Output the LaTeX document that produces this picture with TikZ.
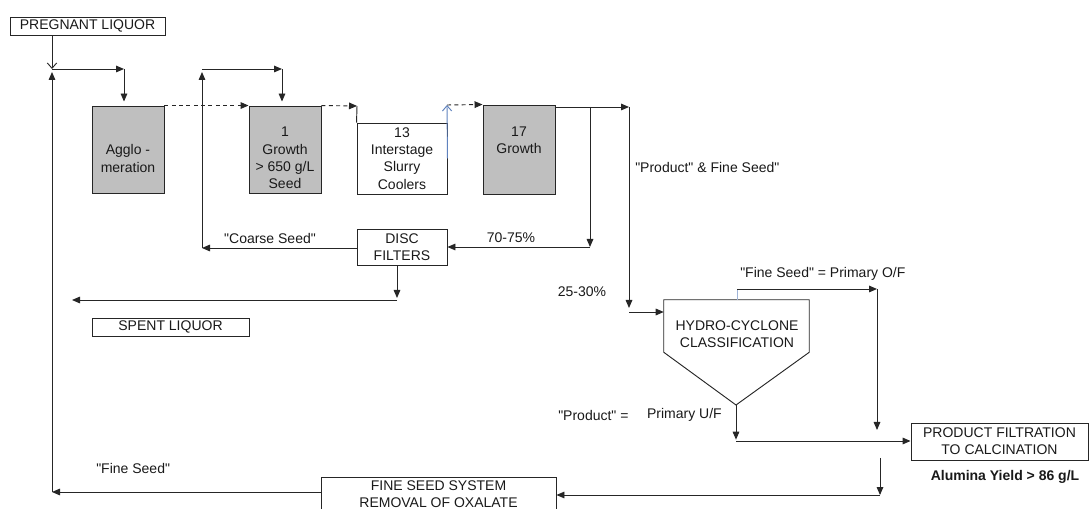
\documentclass[tikz,border=0pt]{standalone}
\usepackage{fontspec}
\setmainfont{Liberation Sans}[Ligatures=TeXOff]
\usepackage{tikz}
\usetikzlibrary{arrows.meta, positioning, calc}
\usepackage{xcolor}
\definecolor{flowblue}{RGB}{95,130,190}
\tikzstyle{box} = [rectangle, draw=black!85, line width=0.7pt, inner sep=0pt, align=center, text=black!90, font=\fontsize{10.5}{13}\selectfont]
\tikzstyle{tank} = [box, fill=black!25]
\tikzstyle{lbl} = [inner sep=0pt, align=center, text=black!90, font=\fontsize{10.5}{13}\selectfont]
\tikzstyle{arrow} = [line width=0.7pt, draw=black!85, -{Triangle[length=6pt,width=5pt]}]
\tikzstyle{dasharrow} = [arrow, dash pattern=on 3pt off 2.5pt]
\tikzstyle{openarrow} = [line width=0.7pt, draw=black!85, -{Straight Barb[length=4pt,width=7pt]}]
\tikzstyle{bluearrow} = [line width=0.7pt, draw=flowblue, -{Straight Barb[length=4pt,width=7pt]}]

\begin{document}
\begin{tikzpicture}[x=0.75pt, y=-0.75pt]
  \useasboundingbox (0,0) rectangle (1089,509);
  \clip (0,0) rectangle (1089,509);

  % Feed and precipitator tanks
  \node[box, minimum width=116.25pt, minimum height=13.5pt] (preg) at (87.5,26) {PREGNANT LIQUOR};
  \node[tank, minimum width=54pt, minimum height=65.25pt] (agglo) at (128,149.5) {};
  \node[lbl] (agglotxt) at (128,158.5) {Agglo -\\meration};
  \node[tank, minimum width=54pt, minimum height=65.25pt] (grow1) at (285,149.5) {};
  \node[lbl] (grow1txt) at (285,158) {1\\Growth\\> 650 g/L\\Seed};
  \node[box, minimum width=67.5pt, minimum height=53.25pt] (cool13) at (402,158.5) {13\\Interstage\\Slurry\\Coolers};
  \node[tank, minimum width=54pt, minimum height=66.75pt] (grow17) at (519,149.5) {};
  \node[lbl] (grow17txt) at (519,140) {17\\Growth};

  % Filters and classification
  \node[box, minimum width=67.5pt, minimum height=27pt] (disc) at (402,247) {DISC\\FILTERS};
  \node[box, minimum width=117.75pt, minimum height=13.5pt] (spent) at (170.5,327) {SPENT LIQUOR};
  \node[minimum width=108.75pt, minimum height=39pt, inner sep=0pt] (hydro) at (736.5,326) {};
  \node[lbl] (hydrotxt) at (737,334.5) {HYDRO-CYCLONE\\CLASSIFICATION};
  \node[box, minimum width=132.75pt, minimum height=27.75pt] (prodfilt) at (999.5,441.5) {PRODUCT FILTRATION\\TO CALCINATION};
  \node[box, minimum width=176.25pt, minimum height=26.25pt] (fineseed) at (438.5,494.5) {FINE SEED SYSTEM\\REMOVAL OF OXALATE};

  % Labels
  \node[lbl] (coarse) at (270,238) {"Coarse Seed"};
  \node[lbl] (pct70) at (511,238) {70-75\%};
  \node[lbl, anchor=west] (prodfine) at (635,167) {"Product" \& Fine Seed"};
  \node[lbl] (pct25) at (582,292) {25-30\%};
  \node[lbl, anchor=west] (ofl) at (740,274) {"Fine Seed" = Primary O/F};
  \node[lbl, anchor=west] (prodeq) at (558,415) {"Product" =};
  \node[lbl, right=13.5pt of prodeq] (ufl) {Primary U/F};
  \node[lbl, anchor=west] (finelbl) at (96,468) {"Fine Seed"};
  \node[lbl, font=\fontsize{10.5}{13}\selectfont\bfseries] (yield) at (1005,477) {Alumina Yield > 86 g/L};

  % Junctions
  \coordinate (jin) at (52,69);
  \coordinate (jret) at (52,492);
  \coordinate (jagg) at (124,69);
  \coordinate (jcs) at (202,248);
  \coordinate (jtop) at (202,69);
  \coordinate (jgr) at (282,69);
  \coordinate (jcool) at (357,106);
  \coordinate (jblue) at (447,105);
  \coordinate (jsplit) at (590,107);
  \coordinate (jdisc) at (590,247);
  \coordinate (jout) at (629,107);
  \coordinate (jcyc) at (629,312);
  \coordinate (jspent) at (397,300);
  \coordinate (spentend) at (72,300);
  \coordinate (jof) at (737,289);
  \coordinate (jof2) at (877,289);
  \coordinate (jofend) at (877,430);
  \coordinate (apex) at (736,405);
  \coordinate (juf) at (736,441);
  \coordinate (jfs0) at (880,458);
  \coordinate (jfs1) at (880,495);

  % Hydro-cyclone body
  \draw[line width=0.7pt, draw=black!85] (hydro.north west) -- (hydro.north east) -- (hydro.south east) -- (apex) -- (hydro.south west) -- cycle;

  % Flows
  \draw[openarrow] (preg.south -| jin) -- (jin);
  \draw[arrow] (fineseed.west |- jret) -- (jret);
  \draw[arrow, shorten >=2.25pt] (jret) -- (jin);
  \draw[arrow] (jin) -- (jagg);
  \draw[arrow, shorten >=3pt] (jagg) -- (agglo.north -| jagg);
  \draw[dasharrow] (agglo.north east) -- (grow1.north west);
  \draw[arrow] (disc.west |- jcs) -- (jcs);
  \draw[arrow, shorten >=2.25pt] (jcs) -- (jtop);
  \draw[arrow] (jtop) -- (jgr);
  \draw[arrow, shorten >=3pt] (jgr) -- (grow1.north -| jgr);
  \draw[dasharrow] (grow1.north east) -- (jcool);
  \draw[line width=0.7pt, draw=black!85] (jcool) -- (cool13.north west);
  \draw[bluearrow] (cool13.east) -- (jblue);
  \draw[dasharrow] (jblue) -- (grow17.north west);
  \draw[arrow] (grow17.north east |- jout) -- (jout);
  \draw[arrow] (jsplit) -- (jdisc);
  \draw[arrow] (jdisc) -- (disc.east |- jdisc);
  \draw[arrow, shorten >=3pt] (jout) -- (jcyc);
  \draw[arrow] (jcyc) -- (hydro.west |- jcyc);
  \draw[arrow, shorten >=1.5pt] (disc.south -| jspent) -- (jspent);
  \draw[arrow] (jspent) -- (spentend);
  \draw[line width=0.7pt, draw=flowblue!60] (hydro.north -| jof) -- (jof);
  \draw[arrow] (jof) -- (jof2);
  \draw[arrow] (jof2) -- (jofend);
  \draw[arrow, shorten >=1pt] (apex) -- (juf);
  \draw[arrow] (juf) -- (prodfilt.west |- juf);
  \draw[arrow] (jfs0) -- (jfs1);
  \draw[arrow] (jfs1) -- (fineseed.east |- jfs1);
\end{tikzpicture}
\end{document}
